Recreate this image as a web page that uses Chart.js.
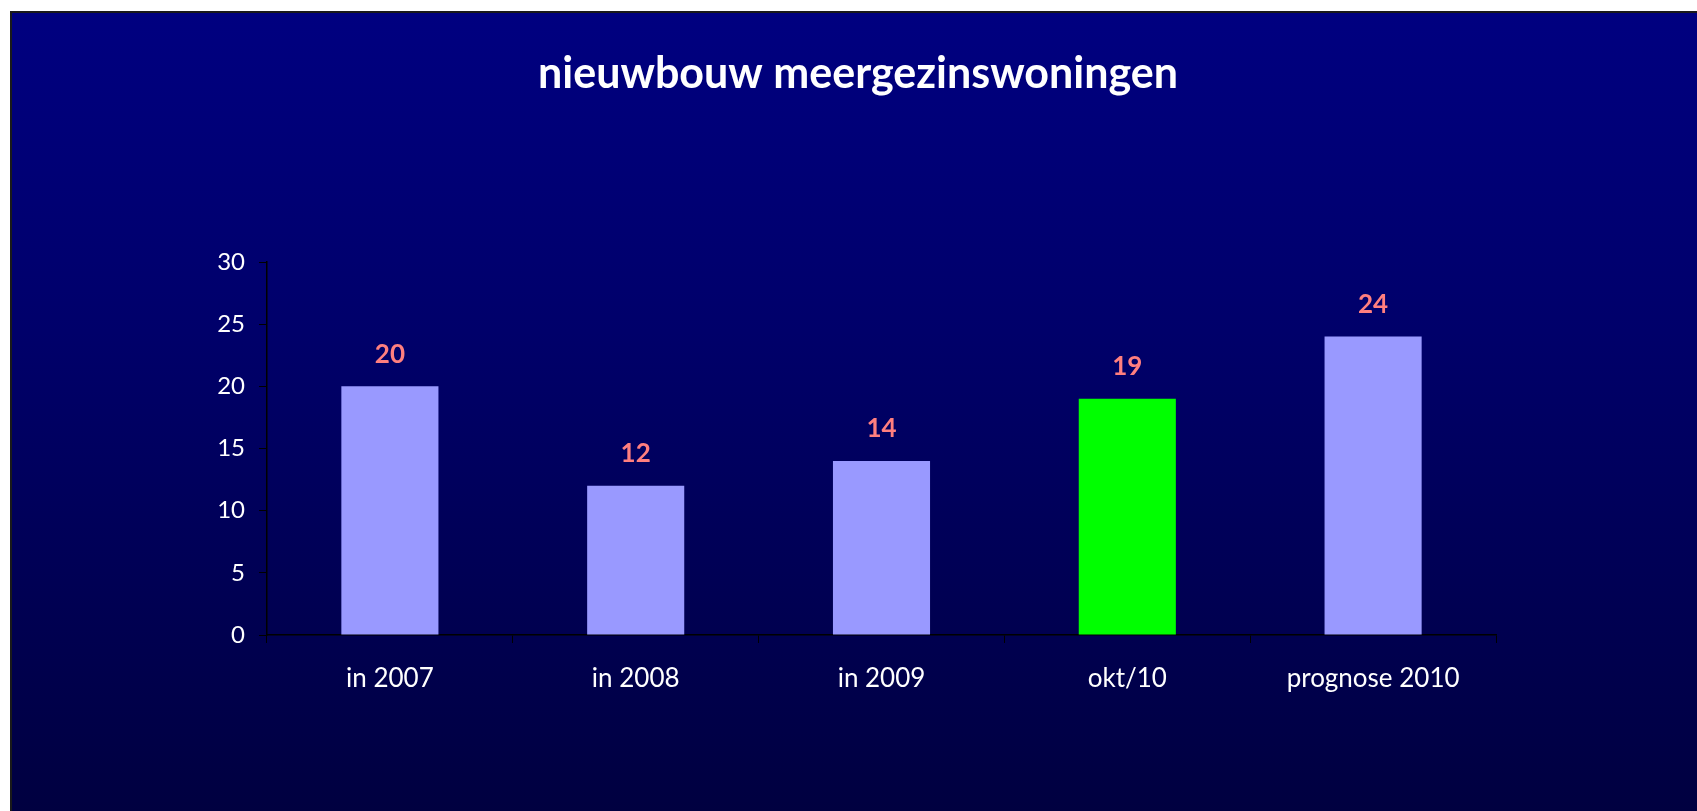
<!DOCTYPE html>
<html>
<head>
<meta charset="utf-8">
<script src="https://cdn.jsdelivr.net/npm/chart.js@4.4.0/dist/chart.umd.min.js"></script>
<style>
  html, body { margin: 0; padding: 0; background: #ffffff; }
  body { width: 1697px; height: 811px; overflow: hidden; position: relative; }
  #box {
    position: absolute; left: 10px; top: 11px; width: 1687px; height: 800px;
    background: linear-gradient(to bottom, #000080 0%, #00006a 40%, #000040 100%);
    border-top: 2px solid #1a1a1a; border-left: 2px solid #1a1a1a; box-sizing: border-box;
  }
  canvas { position: absolute; left: 0; top: 0; }
</style>
</head>
<body>
<div id="box"><canvas id="c" width="1685" height="798"></canvas></div>
<script>
const titleText = "nieuwbouw meergezinswoningen";
const categories = ["in 2007", "in 2008", "in 2009", "okt/10", "prognose 2010"];
const values = [20, 12, 14, 19, 24];
const barColors = ["#9999FF", "#9999FF", "#9999FF", "#00FF00", "#9999FF"];
const yTicks = [0, 5, 10, 15, 20, 25, 30];

const FONT = "Lato, 'Open Sans', sans-serif";

const titlePlugin = {
  id: 'titleDraw',
  afterDraw(chart) {
    const ctx = chart.ctx;
    ctx.save();
    ctx.fillStyle = '#ffffff';
    ctx.font = "bold 43px " + FONT;
    ctx.textAlign = 'center';
    ctx.textBaseline = 'middle';
    ctx.fillText(titleText, 846, 61);
    ctx.restore();
  }
};

const labelPlugin = {
  id: 'valueLabels',
  afterDatasetsDraw(chart) {
    const ctx = chart.ctx;
    const meta = chart.getDatasetMeta(0);
    ctx.save();
    ctx.fillStyle = '#FF7F7F';
    ctx.font = "bold 26px " + FONT;
    ctx.textAlign = 'center';
    ctx.textBaseline = 'middle';
    meta.data.forEach((bar, i) => {
      ctx.fillText(String(values[i]), bar.x, bar.y - 32);
    });
    ctx.restore();
  }
};

new Chart(document.getElementById('c'), {
  type: 'bar',
  data: {
    labels: categories,
    datasets: [{
      data: values,
      backgroundColor: barColors,
      borderWidth: 0,
      categoryPercentage: 1.0,
      barPercentage: 0.395
    }]
  },
  options: {
    responsive: false,
    animation: false,
    events: [],
    layout: { padding: { top: 249, right: 201, bottom: 0, left: 0 } },
    plugins: { legend: { display: false }, tooltip: { enabled: false }, title: { display: false } },
    scales: {
      x: {
        grid: { drawOnChartArea: false, color: '#000000', tickLength: 8, offset: true },
        border: { color: '#000000', width: 1.5 },
        ticks: { color: '#ffffff', font: { family: FONT, size: 26 }, padding: 20 },
        afterFit(s) { s.height = 176; }
      },
      y: {
        min: 0, max: 30,
        afterBuildTicks(s) { s.ticks = yTicks.map(v => ({ value: v })); },
        grid: { drawOnChartArea: false, color: '#000000', tickLength: 8 },
        border: { color: '#000000', width: 1.5 },
        ticks: { color: '#ffffff', font: { family: FONT, size: 24 }, padding: 14 },
        afterFit(s) { s.width = 255; }
      }
    }
  },
  plugins: [titlePlugin, labelPlugin]
});
</script>
</body>
</html>
